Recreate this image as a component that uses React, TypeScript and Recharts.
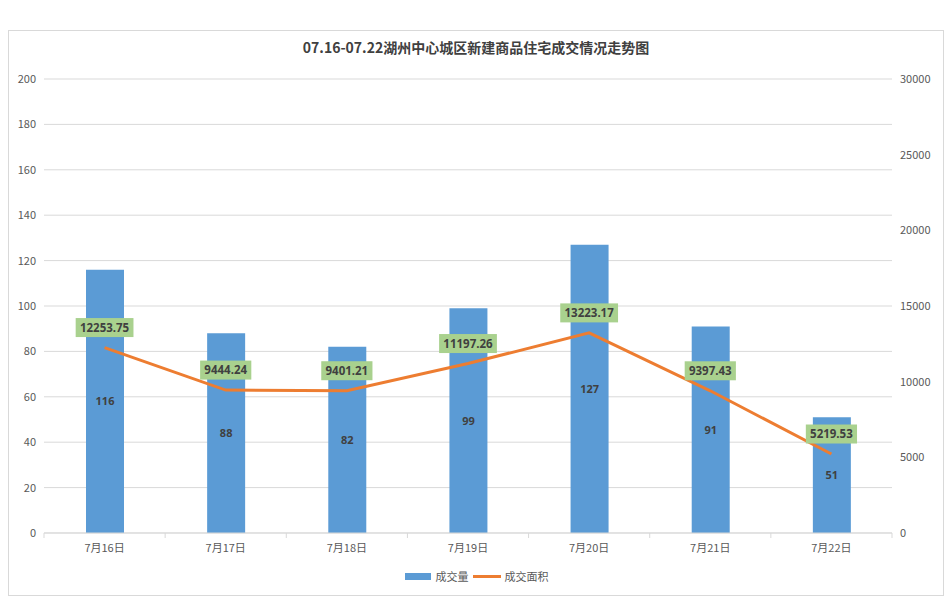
import React from "react";
import {
  ComposedChart,
  Bar,
  Line,
  XAxis,
  YAxis,
  CartesianGrid,
  LabelList,
  Legend,
} from "recharts";

const categories = ["7月16日", "7月17日", "7月18日", "7月19日", "7月20日", "7月21日", "7月22日"];
const volumeValues = [116, 88, 82, 99, 127, 91, 51];
const areaValues = [12253.75, 9444.24, 9401.21, 11197.26, 13223.17, 9397.43, 5219.53];
const leftTicks = [0, 20, 40, 60, 80, 100, 120, 140, 160, 180, 200];
const rightTicks = [0, 5000, 10000, 15000, 20000, 25000, 30000];
const titleText = "07.16-07.22湖州中心城区新建商品住宅成交情况走势图";
const volumeName = "成交量";
const areaName = "成交面积";

const data = categories.map((c, i) => ({
  name: c,
  volume: volumeValues[i],
  area: areaValues[i],
}));

const FONT = "'Noto Sans CJK SC', 'Noto Sans', sans-serif";
const BLUE = "#5B9BD5";
const ORANGE = "#ED7D31";
const GRID = "#d9d9d9";
const AXIS_TEXT = "#595959";

const XTick = (props: any) => {
  const { x, y, payload, index, width, visibleTicksCount } = props;
  const count = visibleTicksCount || categories.length;
  const half = (width || 848) / count / 2;
  const axisY = y - 8;
  return (
    <g>
      <line x1={x - half} x2={x - half} y1={axisY} y2={axisY + 5} stroke={GRID} />
      {index === count - 1 && (
        <line x1={x + half} x2={x + half} y1={axisY} y2={axisY + 5} stroke={GRID} />
      )}
      <text
        x={x}
        y={y + 11}
        textAnchor="middle"
        fill={AXIS_TEXT}
        fontSize={11}
        fontFamily={FONT}
      >
        {payload.value}
      </text>
    </g>
  );
};

const LineLabel = (props: any) => {
  const { x, y, value } = props;
  if (x == null || y == null) return null;
  const txt = Number(value).toFixed(2);
  const w = txt.length * 6.6 + 5;
  const h = 19;
  const cy = y - 20;
  return (
    <g>
      <rect x={x - w / 2} y={cy - h / 2} width={w} height={h} fill="#A9D18E" />
      <text
        x={x}
        y={cy + 4}
        textAnchor="middle"
        fontSize={11.5}
        fontWeight="bold"
        fill="#404040"
        fontFamily="'Noto Sans', sans-serif"
      >
        {txt}
      </text>
    </g>
  );
};

const LegendContent = () => (
  <div
    style={{
      display: "flex",
      justifyContent: "center",
      alignItems: "center",
      fontFamily: FONT,
      fontSize: 11,
      color: AXIS_TEXT,
      height: 20,
      paddingTop: 9,
      marginLeft: 2,
    }}
  >
    <span style={{ display: "inline-block", width: 26, height: 7, background: BLUE, marginRight: 5 }} />
    <span style={{ marginRight: 4 }}>{volumeName}</span>
    <span style={{ display: "inline-block", width: 28, height: 3, background: ORANGE, marginRight: 4 }} />
    <span>{areaName}</span>
  </div>
);

export default function App() {
  return (
    <div
      style={{
        position: "relative",
        marginTop: 22,
        width: 934,
        height: 564,
        border: `1px solid ${GRID}`,
        background: "#fff",
      }}
    >
      <div
        style={{
          position: "absolute",
          top: 5,
          left: 0,
          width: "100%",
          textAlign: "center",
          fontFamily: FONT,
          fontWeight: "bold",
          fontSize: 14,
          lineHeight: "22px",
          color: "#404040",
        }}
      >
        {titleText}
      </div>
      <ComposedChart
        width={934}
        height={564}
        data={data}
        margin={{ top: 48, right: 6, left: 5, bottom: 6 }}
      >
        <CartesianGrid vertical={false} stroke={GRID} yAxisId="left" />
        <XAxis
          dataKey="name"
          axisLine={{ stroke: GRID }}
          tickLine={false}
          tickSize={6}
          tickMargin={2}
          height={24}
          tick={<XTick />}
          interval={0}
        />
        <YAxis
          yAxisId="left"
          orientation="left"
          domain={[0, 200]}
          ticks={leftTicks}
          width={30}
          axisLine={false}
          tickLine={false}
          tick={{ fill: AXIS_TEXT, fontSize: 11, fontFamily: FONT }}
        />
        <YAxis
          yAxisId="right"
          orientation="right"
          domain={[0, 30000]}
          ticks={rightTicks}
          width={45}
          axisLine={false}
          tickLine={false}
          tick={{ fill: AXIS_TEXT, fontSize: 11, fontFamily: FONT, textAnchor: "start" }}
        />
        <Legend verticalAlign="bottom" height={32} content={<LegendContent />} />
        <Bar
          yAxisId="left"
          dataKey="volume"
          name={volumeName}
          fill={BLUE}
          barSize={38}
          isAnimationActive={false}
        >
          <LabelList
            dataKey="volume"
            position="center"
            fill="#404040"
            fontSize={11}
            fontWeight="bold"
            fontFamily="'Noto Sans', sans-serif"
          />
        </Bar>
        <Line
          yAxisId="right"
          type="linear"
          dataKey="area"
          name={areaName}
          stroke={ORANGE}
          strokeWidth={3}
          dot={false}
          activeDot={false}
          isAnimationActive={false}
        >
          <LabelList dataKey="area" content={<LineLabel />} />
        </Line>
      </ComposedChart>
    </div>
  );
}
